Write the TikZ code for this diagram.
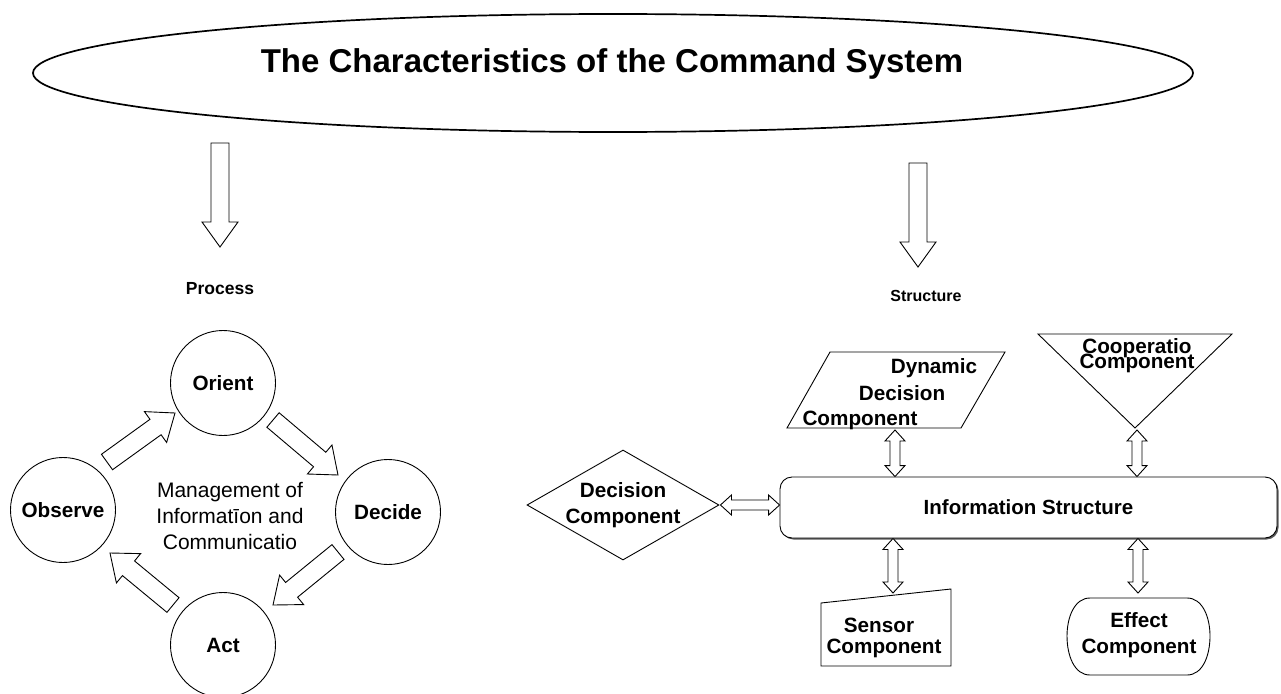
\documentclass[tikz,border=0pt]{standalone}
\usepackage{fontspec}
\setmainfont{Liberation Sans}
\usetikzlibrary{calc,shapes.geometric,shadows}

% hollow block arrow: tail, tip, shaft half-width, head half-width, head length
\newcommand\hollowarrow[5]{%
  \coordinate (ha-b) at ($(#2)!#5!(#1)$);
  \draw[arrowbody] ($(#1)!#3!90:(#2)$) -- ($(ha-b)!#3!-90:(#1)$) -- ($(ha-b)!#4!-90:(#1)$) -- (#2)
    -- ($(ha-b)!#4!90:(#1)$) -- ($(ha-b)!#3!90:(#1)$) -- ($(#1)!#3!-90:(#2)$) -- cycle;}
% hollow double-headed block arrow between two points
\newcommand\hollowdouble[5]{%
  \coordinate (hd-a) at ($(#1)!#5!(#2)$);
  \coordinate (hd-b) at ($(#2)!#5!(#1)$);
  \draw[arrowbody] (#1) -- ($(hd-a)!#4!90:(#2)$) -- ($(hd-a)!#3!90:(#2)$) -- ($(hd-b)!#3!-90:(#1)$)
    -- ($(hd-b)!#4!-90:(#1)$) -- (#2) -- ($(hd-b)!#4!90:(#1)$) -- ($(hd-b)!#3!90:(#1)$)
    -- ($(hd-a)!#3!-90:(#2)$) -- ($(hd-a)!#4!-90:(#2)$) -- cycle;}

\begin{document}
\begin{tikzpicture}[x=1pt,y=-1pt,
  outline/.style={draw=black, line width=0.9pt, line join=miter},
  arrowbody/.style={draw=black, line width=0.9pt, fill=white, line join=miter},
  lbl/.style={font=\bfseries\fontsize{20.7}{26}\selectfont, align=center, inner sep=0pt},
  circ/.style={circle, outline, minimum size=105pt, inner sep=0pt, font=\bfseries\fontsize{20.7}{24}\selectfont},
  head/.style={font=\bfseries\fontsize{17.5}{20}\selectfont, inner sep=0pt},
]
\useasboundingbox (0,0) rectangle (1281,693);

% title
\node[ellipse, draw, line width=1.7pt, minimum width=1160pt, minimum height=118pt, inner sep=0pt] (titleframe) at (613,73) {};
\node[font=\bfseries\fontsize{33}{36}\selectfont, anchor=base, inner sep=0pt] (title) at (612,73) {The Characteristics of the Command System};

% process branch
\coordinate (procA) at (220,143);
\coordinate (procB) at (220,247);
\hollowarrow{procA}{procB}{9pt}{18pt}{25pt}
\node[head] (process) at (220,289) {Process};

\node[circ] (orient) at (223,383) {Orient};
\node[circ] (observe) at (63,510) {Observe};
\node[circ] (decide) at (388,512) {Decide};
\node[circ] (act) at (223,645) {Act};

\node[font=\fontsize{21}{26}\selectfont, align=center, inner sep=0pt] (mgmt) at (230,516) {Management of\\Informatīon and\\Communicatio};

\coordinate (c1a) at (107,462); \coordinate (c1b) at (175,413);
\coordinate (c2a) at (273,420); \coordinate (c2b) at (338,475);
\coordinate (c3a) at (338,552); \coordinate (c3b) at (273,605);
\coordinate (c4a) at (173,605); \coordinate (c4b) at (110,553);
\hollowarrow{c1a}{c1b}{9.5pt}{19pt}{24pt}
\hollowarrow{c2a}{c2b}{9.5pt}{19pt}{24pt}
\hollowarrow{c3a}{c3b}{9.5pt}{19pt}{24pt}
\hollowarrow{c4a}{c4b}{9.5pt}{19pt}{24pt}

% structure branch
\coordinate (strA) at (918,163);
\coordinate (strB) at (918,267);
\hollowarrow{strA}{strB}{9pt}{18pt}{25pt}
\node[head, font=\bfseries\fontsize{16}{20}\selectfont] (structure) at (926,296) {Structure};

% dynamic decision component
\draw[outline] (787,428) -- (961,428) -- (1005,352) -- (830,352) -- cycle;
\node[lbl, anchor=base] (dyn1) at (934,373) {Dynamic};
\node[lbl, anchor=base] (dyn2) at (902,400) {Decision};
\node[lbl, anchor=base] (dyn3) at (860,425) {Component};
\coordinate (dyn-s) at (895,430);

% cooperation component
\draw[outline] (1038,334) -- (1232,334) -- (1135,428) -- cycle;
\node[lbl, anchor=base] (coop1) at (1137,353) {Cooperatio};
\node[lbl, anchor=base] (coop2) at (1137,368.5) {Component};
\coordinate (coop-s) at (1137,430);

% decision component
\node[diamond, outline, minimum width=192pt, minimum height=110pt, inner sep=0pt] (decshape) at (623,505) {};
\node[lbl] (dec) at (623,505) {Decision\\Component};

% information structure
\node[draw, line width=0.9pt, rounded corners=12pt, minimum width=497pt, minimum height=61pt, fill=white,
  drop shadow={shadow xshift=1.5pt, shadow yshift=-1.5pt, fill=black!65, opacity=1},
  font=\bfseries\fontsize{20.5}{24}\selectfont, inner sep=0pt] (info) at (1028.5,507.5) {Information Structure};

% sensor component
\draw[outline] (821,603) -- (951,589) -- (951,666) -- (821,666) -- cycle;
\node[lbl, anchor=base] (sen1) at (879,632) {Sensor};
\node[lbl, anchor=base] (sen2) at (884,653) {Component};
\coordinate (sen-t) at (893,593);

% effect component
\draw[outline] (1090,598) -- (1187,598) .. controls (1203,598) and (1210,618) .. (1210,636)
  .. controls (1210,655) and (1203,675) .. (1187,675) -- (1090,675)
  .. controls (1074,675) and (1067,655) .. (1067,636) .. controls (1067,618) and (1074,598) .. (1090,598) -- cycle;
\node[lbl, anchor=base] (eff1) at (1139,627) {Effect};
\node[lbl, anchor=base] (eff2) at (1139,653) {Component};
\coordinate (eff-t) at (1138,593);

% links to the information structure
\coordinate (info-n1) at (info.north -| dyn-s);
\coordinate (info-n2) at (info.north -| coop-s);
\coordinate (info-s1) at (info.south -| sen-t);
\coordinate (info-s2) at (info.south -| eff-t);
\coordinate (dec-e) at ($(decshape.east)+(1,0)$);
\coordinate (info-w) at (info.west |- dec-e);
\hollowdouble{dyn-s}{info-n1}{5pt}{10pt}{11pt}
\hollowdouble{coop-s}{info-n2}{5pt}{10pt}{11pt}
\hollowdouble{info-s1}{sen-t}{5pt}{10pt}{11pt}
\hollowdouble{info-s2}{eff-t}{5pt}{10pt}{11pt}
\hollowdouble{dec-e}{info-w}{5pt}{10pt}{11pt}
\end{tikzpicture}
\end{document}
